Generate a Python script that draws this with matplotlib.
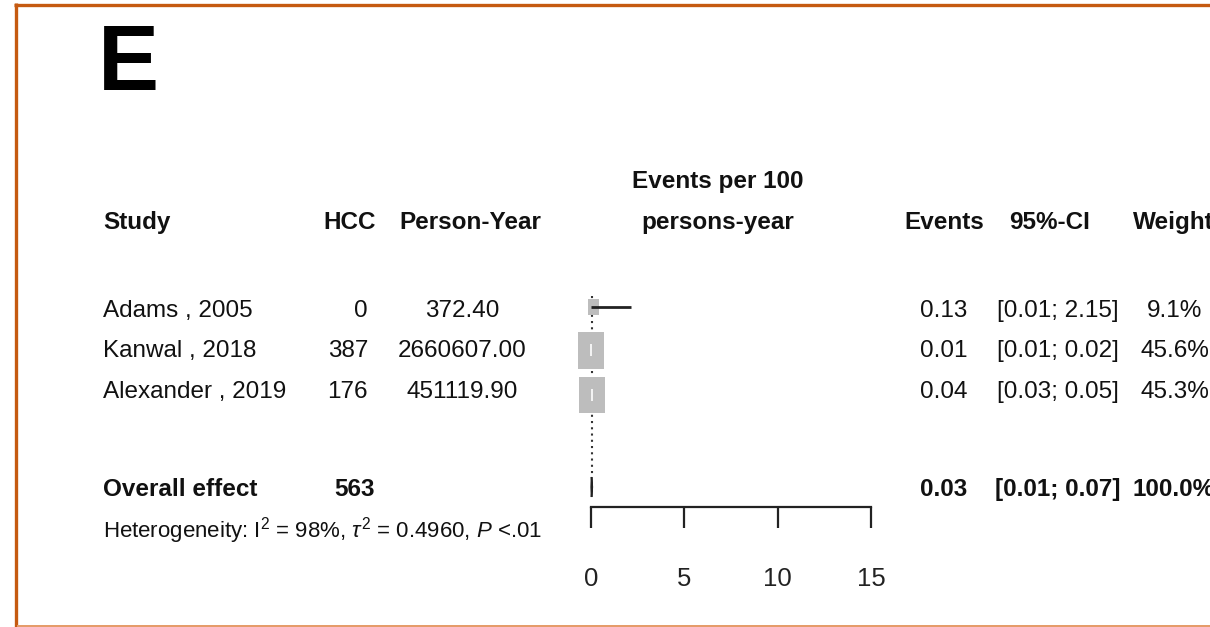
import matplotlib
matplotlib.use("Agg")
import matplotlib.pyplot as plt
from matplotlib import font_manager as fm
from matplotlib.patches import Rectangle, Polygon
from matplotlib.lines import Line2D
import numpy as np

# ---------------- data ----------------
studies = ["Adams , 2005", "Kanwal , 2018", "Alexander , 2019"]
hcc = [0, 387, 176]
person_year = [372.40, 2660607.00, 451119.90]
events = [0.13, 0.01, 0.04]
ci_low = [0.01, 0.01, 0.03]
ci_high = [2.15, 0.02, 0.05]
weights = [9.1, 45.6, 45.3]
overall_hcc = 563
overall_est = 0.03
overall_low = 0.01
overall_high = 0.07
overall_weight = 100.0
i2 = 98
tau2 = 0.4960
p_text = "<.01"
xticks = [0, 5, 10, 15]

# ---------------- fonts ----------------
FAM = ["Liberation Sans", "DejaVu Sans"]
FS = 17.5
FS_H = 16
plt.rcParams["font.family"] = FAM
plt.rcParams["mathtext.fontset"] = "custom"
plt.rcParams["mathtext.rm"] = FAM[0]
plt.rcParams["mathtext.it"] = FAM[0] + ":italic"
plt.rcParams["mathtext.bf"] = FAM[0] + ":bold"

W, H = 1210, 627
fig = plt.figure(figsize=(W / 100, H / 100), dpi=100)
fig.patch.set_facecolor("white")

def fx(px):
    return px / W

def fy(py):
    return 1 - py / H

TXT = "#111111"

# ---------------- layout (pixel baselines) ----------------
row_base = [317, 357, 398]        # text baselines of study rows
mark_y = [307, 350, 395]          # vertical centres of the study marks
y_head = 229
y_head2 = 188
y_overall = 496
y_diamond = 487
y_het = 538
x_axis_y = 507

# ---------------- forest axes ----------------
ax = fig.add_axes([fx(591), 0, fx(871) - fx(591), 1])
ax.set_xlim(0, 15)
ax.set_ylim(H, 0)
ax.patch.set_alpha(0)
for s in ["left", "right", "top"]:
    ax.spines[s].set_visible(False)
ax.spines["bottom"].set_position(("data", x_axis_y))
ax.spines["bottom"].set_linewidth(1.6)
ax.spines["bottom"].set_color("#222222")
ax.set_yticks([])
ax.set_xticks(xticks)
ax.set_xticklabels([str(t) for t in xticks])
ax.tick_params(axis="x", direction="out", length=15, width=1.6, pad=28,
               labelsize=18.5, colors="#222222")

px_per_unit = 280 / 15.0

# reference (overall) dotted line
ax.vlines(overall_est, 296, 475, linestyles=(0, (1, 2)), colors="#333333",
          lw=1.5, clip_on=False)

max_w = max(weights)
for y, est, lo, hi, w in zip(mark_y, events, ci_low, ci_high, weights):
    sc = np.sqrt(w / max_w)
    wd = 26 * sc / px_per_unit
    ht = 37 * sc
    ax.add_patch(Rectangle((est - wd / 2, y - ht / 2), wd, ht,
                           facecolor="#BDBDBD", edgecolor="none", zorder=2,
                           clip_on=False))
    inside = (lo >= est - wd / 2) and (hi <= est + wd / 2)
    col = "white" if inside else "#222222"
    ax.plot([lo, hi], [y, y], color=col, lw=2, zorder=3,
            solid_capstyle="butt", clip_on=False)
    if inside:
        ax.plot([est], [y], marker="|", ms=8, mew=1.2, color="white",
                zorder=4, clip_on=False)

# diamond
ax.add_patch(Polygon([(overall_low, y_diamond), (overall_est, y_diamond - 10),
                      (overall_high, y_diamond), (overall_est, y_diamond + 10)],
                     closed=True, facecolor="#888888", edgecolor="#222222",
                     lw=1.2, zorder=3, clip_on=False))

# ---------------- text columns ----------------
def t(x, y, s, ha="left", bold=False, size=None, **kw):
    fig.text(fx(x), fy(y), s, ha=ha, va="baseline",
             fontsize=size or FS, fontweight="bold" if bold else "normal",
             color=TXT, **kw)

# panel letter
fig.text(fx(98), fy(90), "E", ha="left", va="baseline", fontsize=66,
         fontweight="bold", color="black")

# headers
t(103, y_head, "Study", bold=True)
t(376, y_head, "HCC", ha="right", bold=True)
t(470, y_head, "Person-Year", ha="center", bold=True)
t(718, y_head2, "Events per 100", ha="center", bold=True)
t(718, y_head, "persons-year", ha="center", bold=True)
t(944, y_head, "Events", ha="center", bold=True)
t(1050, y_head, "95%-CI", ha="center", bold=True)
t(1133, y_head, "Weight", ha="left", bold=True)

# study rows
for y, s, n, py, e, lo, hi, w in zip(row_base, studies, hcc, person_year,
                                     events, ci_low, ci_high, weights):
    t(103, y, s)
    t(368, y, f"{n}", ha="right")
    t(462, y, f"{py:.2f}", ha="center")
    t(944, y, f"{e:.2f}", ha="center")
    t(1058, y, f"[{lo:.2f}; {hi:.2f}]", ha="center")
    t(1175, y, f"{w:.1f}%", ha="center")

# overall row
t(103, y_overall, "Overall effect", bold=True)
t(375, y_overall, f"{overall_hcc}", ha="right", bold=True)
t(944, y_overall, f"{overall_est:.2f}", ha="center", bold=True)
t(1058, y_overall, f"[{overall_low:.2f}; {overall_high:.2f}]", ha="center", bold=True)
t(1133, y_overall, f"{overall_weight:.1f}%", ha="left", bold=True)

# heterogeneity
het = (r"Heterogeneity: $\mathrm{I}^2$ = " + f"{i2}%" + r", $\tau^2$ = "
       + f"{tau2:.4f}" + r", $\mathit{P}$" + f" {p_text}")
t(103, y_het, het, size=FS_H)

# ---------------- border ----------------
fig.add_artist(Line2D([fx(15.5), fx(15.5)], [fy(3), fy(627)], color="#C55A11",
                      lw=2.4, solid_capstyle="butt"))
fig.add_artist(Line2D([fx(14), fx(1210)], [fy(4.5), fy(4.5)], color="#C55A11",
                      lw=2.4, solid_capstyle="butt"))
fig.add_artist(Line2D([fx(17), fx(1210)], [fy(625.5), fy(625.5)], color="#E59A66",
                      lw=1.4, solid_capstyle="butt"))

fig.savefig("out.png", dpi=100, facecolor="white")
